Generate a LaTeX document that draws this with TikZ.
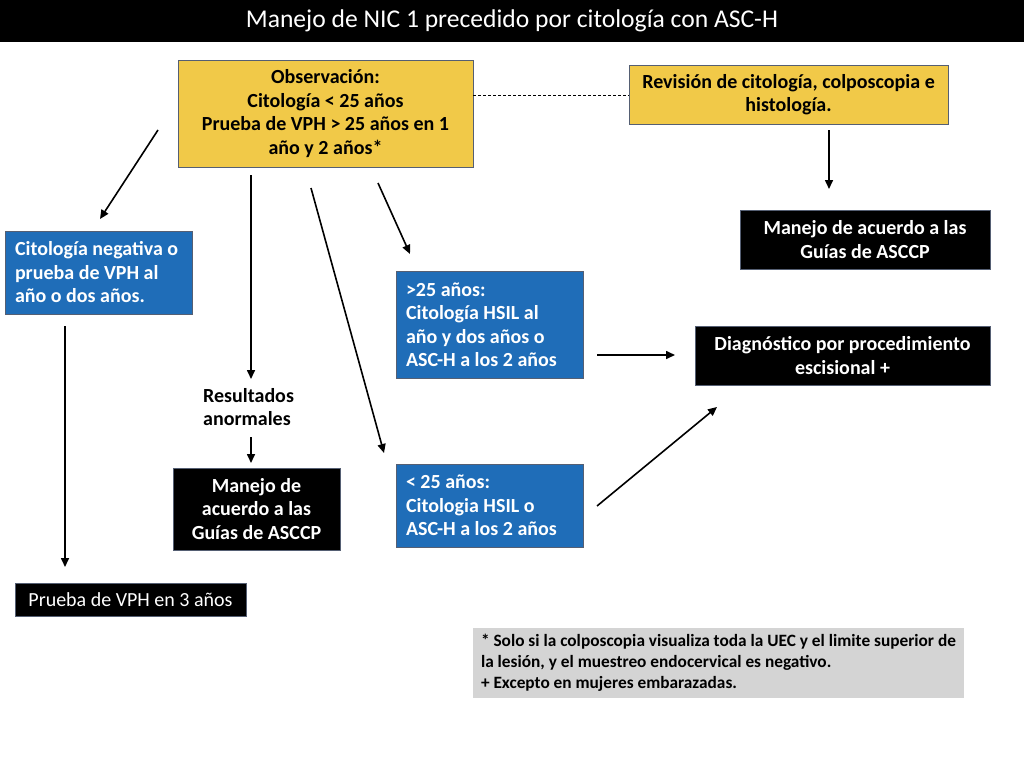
\documentclass[tikz,border=0pt]{standalone}
\usepackage{fontspec}
\setmainfont{Carlito}
\usetikzlibrary{arrows.meta}
\definecolor{amarillo}{RGB}{241,201,72}
\definecolor{azul}{RGB}{31,109,184}
\definecolor{gris}{RGB}{212,212,212}
\definecolor{borde}{RGB}{85,95,115}

\begin{document}
\begin{tikzpicture}[x=1pt,y=-1pt,
  caja/.style={draw=borde,line width=0.6pt,inner sep=0pt,font=\bfseries\fontsize{20}{23.5}\selectfont},
  amar/.style={caja,fill=amarillo,align=center},
  azul/.style={caja,fill=azul,text=white,align=flush left},
  negro/.style={caja,fill=black,text=white,align=center},
  flecha/.style={-{Triangle[length=9pt,width=8pt]},line width=1.6pt}]
   \useasboundingbox[fill=white] (0,0) rectangle (1024,768);
   % titulo
   \fill[black] (0,0) rectangle (1024,42);
   \node[text=white,font=\fontsize{25.6}{30}\selectfont] (titulo) at (512,21) {Manejo de NIC 1 precedido por citología con ASC-H};
   % cajas
   \node[amar,minimum width=295pt,minimum height=107pt] (obs) at (325.5,113.5)
      {Observación:\\Citología < 25 años\\Prueba de VPH > 25 años en 1\\año y 2 años*};
   \node[amar,minimum width=319pt,minimum height=59pt] (rev) at (788.5,94.5)
      {Revisión de citología, colposcopia e\\histología.};
   \node[negro,minimum width=250pt,minimum height=59pt] (guias1) at (865,239.5)
      {Manejo de acuerdo a las\\Guías de ASCCP};
   \node[azul,minimum width=187pt,minimum height=83pt,text width=167pt] (neg) at (98.5,272.5)
      {Citología negativa o\\prueba de VPH al\\año o dos años.};
   \node[negro,minimum width=231pt,minimum height=33pt,font=\fontsize{20}{24}\selectfont] (vph3) at (130.5,599.5)
      {Prueba de VPH en 3 años};
   \node[anchor=west,align=flush left,inner sep=0pt,font=\bfseries\fontsize{20}{23.5}\selectfont] (res) at (203,407)
      {Resultados\\anormales};
   \node[negro,minimum width=167pt,minimum height=82pt] (guias2) at (256.5,509)
      {Manejo de\\acuerdo a las\\Guías de ASCCP};
   \node[azul,minimum width=187pt,minimum height=107pt,text width=167pt] (mayor) at (489.5,324.5)
      {>25 años:\\Citología HSIL al\\año y dos años o\\ASC-H a los 2 años};
   \node[azul,minimum width=187pt,minimum height=83pt,text width=167pt] (menor) at (489.5,505.5)
      {< 25 años:\\Citologia HSIL o\\ASC-H a los 2 años};
   \node[negro,minimum width=295pt,minimum height=59pt] (diag) at (842.5,355.5)
      {Diagnóstico por procedimiento\\escisional +};
   \node[caja,draw=none,fill=gris,minimum width=491pt,minimum height=70pt,text width=475pt,align=flush left,
      font=\bfseries\fontsize{17.3}{21}\selectfont] (nota) at (718.5,663)
      {* Solo si la colposcopia visualiza toda la UEC y el limite superior de\\la lesión, y el muestreo endocervical es negativo.\\+ Excepto en mujeres embarazadas.};
   % extremos de las flechas
   \coordinate (a1) at (158,130); \coordinate (b1) at (100,219);
   \coordinate (a2) at (65,326);  \coordinate (b2) at (65,567);
   \coordinate (a3) at (251,175); \coordinate (b3) at (251,379);
   \coordinate (a4) at (251,437); \coordinate (b4) at (251,463);
   \coordinate (a5) at (311,188); \coordinate (b5) at (384,453);
   \coordinate (a6) at (378,183); \coordinate (b6) at (410,254);
   \coordinate (a7) at (829,130); \coordinate (b7) at (829,189);
   \coordinate (a8) at (597,355); \coordinate (b8) at (675,355);
   \coordinate (a9) at (597,506); \coordinate (b9) at (717,407);
   \foreach \i in {1,...,9} \draw[flecha] (a\i) -- (b\i);
   \draw[dashed,line width=0.8pt,dash pattern=on 3pt off 2pt] (obs.east |- 0,95) -- (rev.west |- 0,95);
\end{tikzpicture}
\end{document}
